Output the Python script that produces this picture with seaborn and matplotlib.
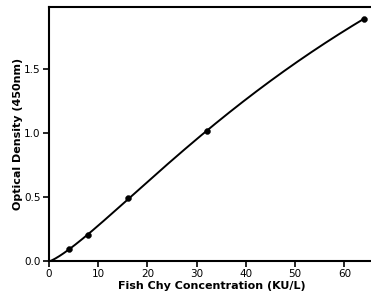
import numpy as np
import matplotlib
matplotlib.use("Agg")
import matplotlib.pyplot as plt
import seaborn as sns

conc = [4, 8, 16, 32, 64]
od = [0.09, 0.20, 0.49, 1.01, 1.89]

sns.set_style("ticks")
plt.rcParams['font.family'] = ['DejaVu Sans']

fig = plt.figure(figsize=(3.71, 2.95), dpi=100)
ax = fig.add_axes([49/371, 34/295, (374-49)/371, (261-7)/295])

# four-parameter logistic fit of the standards (grid over b, c; linear in a, d)
xf = np.array([0] + conc, dtype=float)
yf = np.array([0] + od, dtype=float)
best = None
for b in np.linspace(0.8, 3.0, 111):
    for c in np.geomspace(10, 2000, 300):
        t = (xf / c) ** b
        A = np.column_stack([1 / (1 + t), t / (1 + t)])
        sol, *_ = np.linalg.lstsq(A, yf, rcond=None)
        err = np.sum((A @ sol - yf) ** 2)
        if best is None or err < best[0]:
            best = (err, b, c, sol)
_, b, c, (a, d) = best
xs = np.linspace(0, 64, 300)
ys = d + (a - d) / (1 + (xs / c) ** b)
sns.lineplot(x=xs, y=ys, ax=ax, color="black", linewidth=1.4)
sns.scatterplot(x=conc, y=od, ax=ax, color="black", s=18, edgecolor="black", zorder=3)

ax.set_xlim(0, 66)
ax.set_ylim(0, 1.98)
ax.set_xticks([0, 10, 20, 30, 40, 50, 60])
ax.set_yticks([0.0, 0.5, 1.0, 1.5])
ax.set_yticklabels(["0.0", "0.5", "1.0", "1.5"])
ax.tick_params(labelsize=7.5, width=1.2, length=4, colors="black", pad=2)
for s in ax.spines.values():
    s.set_linewidth(1.5)
    s.set_color("black")
ax.set_xlabel("Fish Chy Concentration (KU/L)", fontsize=8, fontweight="bold", labelpad=1, color="black")
ax.set_ylabel("Optical Density (450nm)", fontsize=8, fontweight="bold", labelpad=1, color="black")

fig.savefig("out.png", dpi=100)
